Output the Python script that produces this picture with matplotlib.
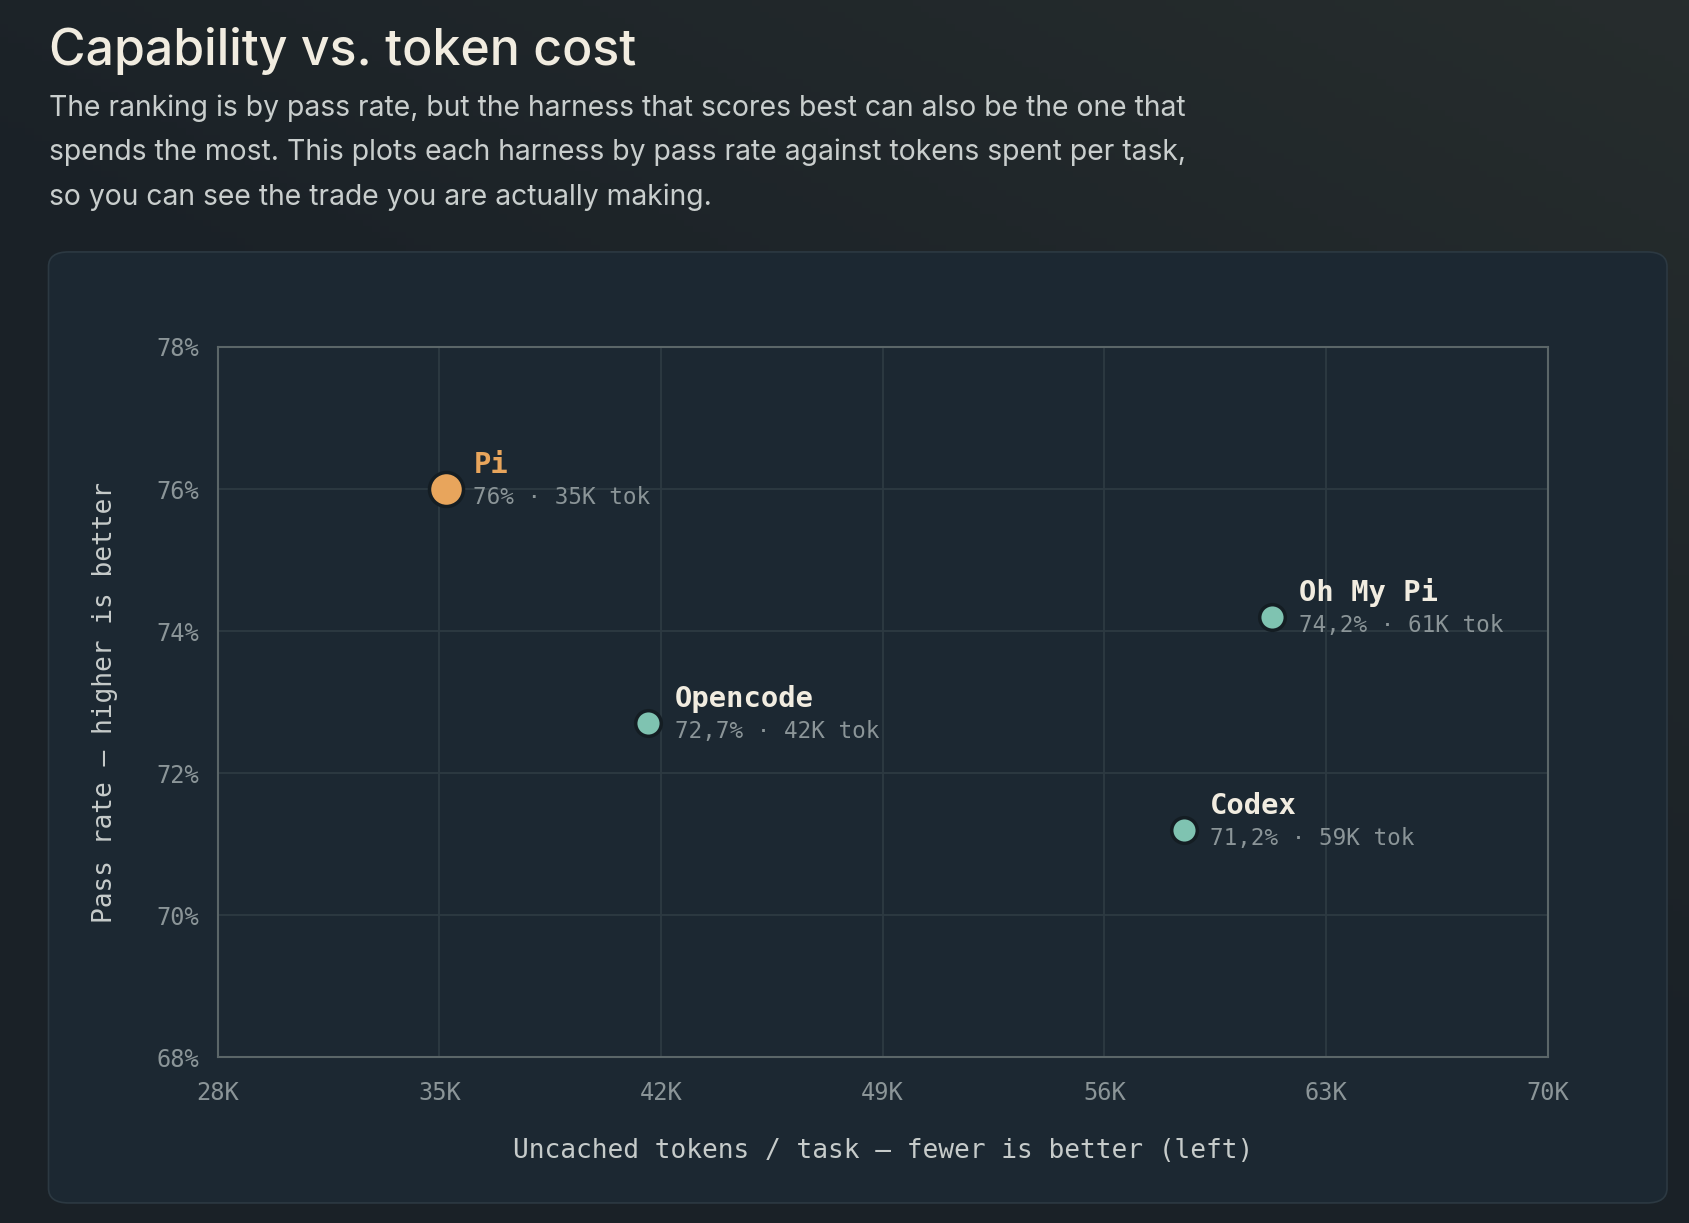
import numpy as np
import matplotlib
matplotlib.use('Agg')
import matplotlib.pyplot as plt
from matplotlib.patches import FancyBboxPatch
from matplotlib.colors import LinearSegmentedColormap

# data
harness = ['Pi', 'Opencode', 'Oh My Pi', 'Codex']
tokens_k = [35.2, 41.6, 61.3, 58.5]
pass_rate = [76.0, 72.7, 74.2, 71.2]
pass_lbl = ['76%', '72,7%', '74,2%', '71,2%']
tok_lbl = ['35K', '42K', '61K', '59K']
x_ticks = [28, 35, 42, 49, 56, 63, 70]
y_ticks = [68, 70, 72, 74, 76, 78]

mono = ['DejaVu Sans Mono']
sans = ['Inter', 'DejaVu Sans']

fig = plt.figure(figsize=(16.9, 12.23), dpi=100)

# page gradient
bg = fig.add_axes([0, 0, 1, 1], zorder=-10)
bg.axis('off')
yy, xx = np.mgrid[0:1:200j, 0:1:200j]
g = np.clip(0.65 * xx + 0.9 * (1 - yy) - 0.75, 0, 1)
cmap = LinearSegmentedColormap.from_list('pg', ['#1a2127', '#2a302f'])
bg.imshow(g, cmap=cmap, extent=[0, 1, 0, 1], aspect='auto', origin='upper', vmin=0, vmax=1)
bg.set_xlim(0, 1)
bg.set_ylim(0, 1)

panel = FancyBboxPatch((0.0287, 0.0164), 0.9577, 0.7776,
                       boxstyle='round,pad=0,rounding_size=0.012',
                       transform=fig.transFigure, facecolor='#1c2832',
                       edgecolor='#2c3942', linewidth=1.2, zorder=-5)
fig.patches.append(panel)

fig.text(0.0287, 0.9469, 'Capability vs. token cost', family=sans, fontsize=36,
         fontweight='medium', color='#f1ece0', va='baseline')
sub = ['The ranking is by pass rate, but the harness that scores best can also be the one that',
       'spends the most. This plots each harness by pass rate against tokens spent per task,',
       'so you can see the trade you are actually making.']
for i, line in enumerate(sub):
    fig.text(0.0287, 1 - (116 + 44.5 * i) / 1223, line, family=sans, fontsize=20.4,
             color='#c9cecd', va='baseline')

ax = fig.add_axes([0.1288, 0.1355, 0.9158 - 0.1288, 0.7163 - 0.1355])
ax.set_facecolor('none')
ax.set_xlim(28, 70)
ax.set_ylim(68, 78)
ax.set_xticks(x_ticks)
ax.set_yticks(y_ticks)
ax.set_xticklabels([f'{t}K' for t in x_ticks])
ax.set_yticklabels([f'{t}%' for t in y_ticks])
ax.grid(True, color='#2d3a42', linewidth=1.3)
ax.set_axisbelow(True)
for s in ax.spines.values():
    s.set_color('#5b6668')
    s.set_linewidth(1.5)
ax.tick_params(length=0, labelsize=17, labelcolor='#8b9598', pad=13)
ax.tick_params(axis='x', pad=17)
for lab in ax.get_xticklabels() + ax.get_yticklabels():
    lab.set_family(mono)

ax.set_xlabel('Uncached tokens / task — fewer is better (left)', family=mono,
              fontsize=18.9, color='#c6cbca', labelpad=24)
ax.set_ylabel('Pass rate — higher is better', family=mono,
              fontsize=18.9, color='#c6cbca', labelpad=28)

for i, name in enumerate(harness):
    top = i == 0
    col = '#e8a55c' if top else '#7fc3b1'
    ax.scatter(tokens_k[i], pass_rate[i], s=600 if top else 340, color=col,
               edgecolor='#141d23', linewidth=2.5, zorder=5)
    off = 20 if top else 19
    ax.annotate(name, (tokens_k[i], pass_rate[i]), xytext=(off, 17.5),
                textcoords='offset points', family=mono, fontsize=20.8,
                fontweight='bold', color=col if top else '#f1ece0',
                va='center', ha='left')
    ax.annotate(f'{pass_lbl[i]} · {tok_lbl[i]} tok', (tokens_k[i], pass_rate[i]),
                xytext=(off, -6), textcoords='offset points', family=mono,
                fontsize=16.3, color='#8b9598', va='center', ha='left')

fig.savefig('out.png', dpi=100)
